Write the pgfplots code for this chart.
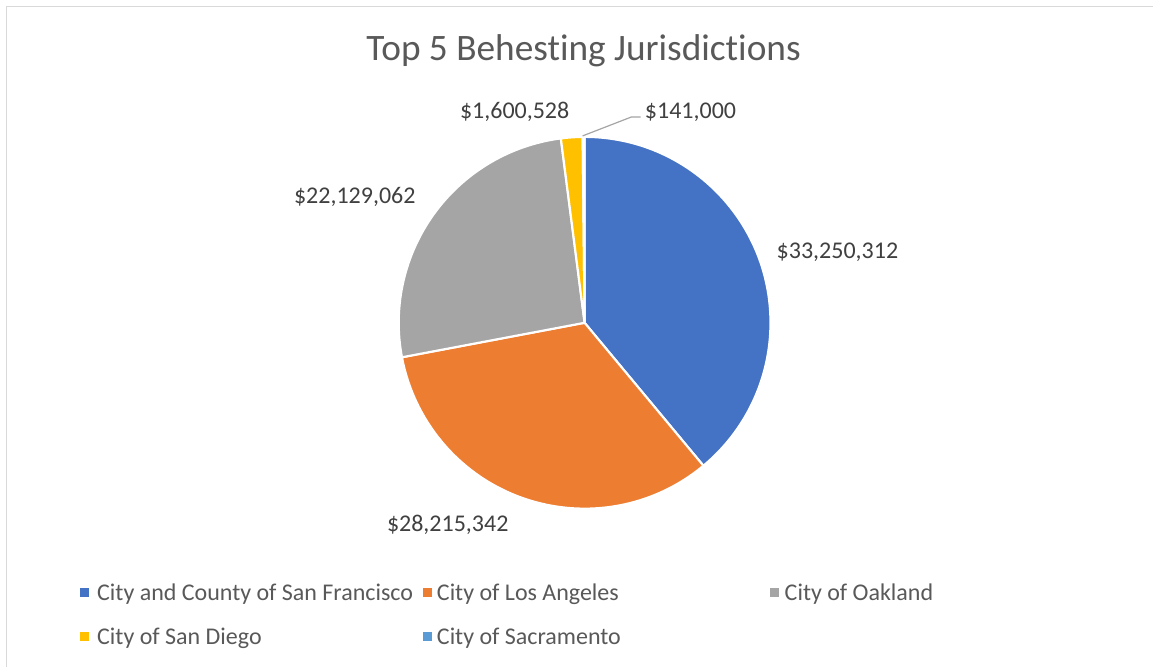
\documentclass[border=0pt]{standalone}
\usepackage{pgfplots}
\pgfplotsset{compat=1.18}
\usepackage{fontspec}
\setmainfont{Carlito}[Ligatures=NoCommon]

\definecolor{sfblue}{HTML}{4472C4}
\definecolor{laorange}{HTML}{ED7D31}
\definecolor{oakgray}{HTML}{A5A5A5}
\definecolor{sdyellow}{HTML}{FFC000}
\definecolor{sacblue}{HTML}{5B9BD5}
\definecolor{titlegray}{HTML}{595959}
\definecolor{labelgray}{HTML}{404040}
\definecolor{framegray}{HTML}{D9D9D9}

% behested payments, in millions of dollars
\def\vSF{33.250312}
\def\vLA{28.215342}
\def\vOak{22.129062}
\def\vSD{1.600528}
\def\vSac{0.141000}
\pgfmathsetmacro\total{\vSF+\vLA+\vOak+\vSD+\vSac}
% clockwise from 12 o'clock, as in Excel
\pgfmathsetmacro\aA{90}
\pgfmathsetmacro\aB{\aA-360*\vSF/\total}
\pgfmathsetmacro\aC{\aB-360*\vLA/\total}
\pgfmathsetmacro\aD{\aC-360*\vOak/\total}
\pgfmathsetmacro\aE{\aD-360*\vSD/\total}
\pgfmathsetmacro\aF{\aE-360*\vSac/\total}

\def\R{139.5pt}
\newcommand{\slice}[3]{%
  \fill[#3, draw=white, line width=1.6pt, line join=round]
    (axis cs:585,344) -- ++(#1:\R) arc[start angle=#1, end angle=#2, radius=\R] -- cycle;}

\begin{document}
\begin{tikzpicture}
\begin{axis}[
    width=865.5pt, height=500.25pt, scale only axis,
    xmin=0, xmax=1154, ymin=0, ymax=667,
    hide axis, clip=false,
  ]
  \path[fill=white] (axis cs:0,0) rectangle (axis cs:1154,667);
  \draw[framegray, line width=1.2pt] (axis cs:6.5,0) -- (axis cs:6.5,660.5) -- (axis cs:1154,660.5);

  \node[text=titlegray, font=\fontsize{28}{32}\selectfont] at (axis cs:584,616) {Top 5 Behesting Jurisdictions};

  \slice{\aA}{\aB}{sfblue}
  \slice{\aB}{\aC}{laorange}
  \slice{\aC}{\aD}{oakgray}
  \slice{\aD}{\aE}{sdyellow}
  \slice{\aE}{\aF}{sacblue}

  \draw[oakgray, line width=0.9pt] (axis cs:583,531) -- (axis cs:632,550) -- (axis cs:641,550);

  \begin{scope}[every node/.style={text=labelgray, font=\fontsize{18}{21}\selectfont}]
    \node at (axis cs:838,415) {\$33,250,312};
    \node at (axis cs:448,142) {\$28,215,342};
    \node at (axis cs:355,470) {\$22,129,062};
    \node at (axis cs:515,555) {\$1,600,528};
    \node at (axis cs:691,555) {\$141,000};
  \end{scope}

  \begin{scope}[every node/.style={text=titlegray, font=\fontsize{18}{21}\selectfont, anchor=base west, inner sep=0pt}]
    \fill[sfblue]    (axis cs:80,70) rectangle (axis cs:89,79);
    \node at (axis cs:97,66) {City and County of San Francisco};
    \fill[laorange]  (axis cs:423,70) rectangle (axis cs:432,79);
    \node at (axis cs:437,66) {City of Los Angeles};
    \fill[oakgray]   (axis cs:771,70) rectangle (axis cs:780,79);
    \node at (axis cs:785,66) {City of Oakland};
    \fill[sdyellow]  (axis cs:80,26) rectangle (axis cs:89,35);
    \node at (axis cs:97,22) {City of San Diego};
    \fill[sacblue]   (axis cs:423,26) rectangle (axis cs:432,35);
    \node at (axis cs:437,22) {City of Sacramento};
  \end{scope}
\end{axis}
\end{tikzpicture}
\end{document}
